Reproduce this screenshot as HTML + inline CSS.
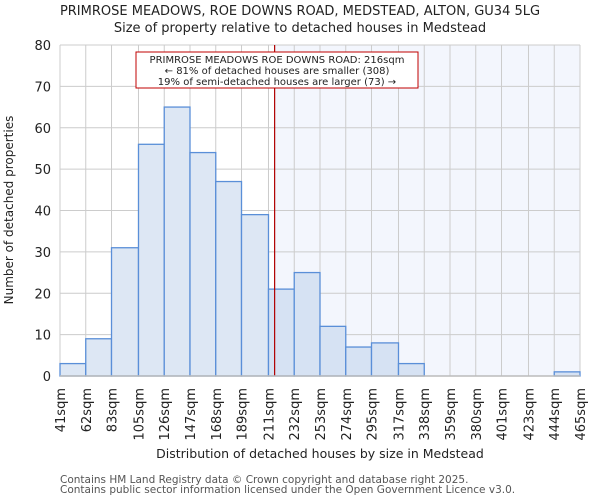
<!DOCTYPE html>
<html><head><meta charset="utf-8"><style>
body{margin:0;background:#fff;}
svg{display:block;font-family:"DejaVu Sans","Liberation Sans",sans-serif;}
</style></head><body>
<svg id="chart" width="600" height="500" xmlns="http://www.w3.org/2000/svg">
<text x="300" y="15" text-anchor="middle" font-size="13" fill="#222">PRIMROSE MEADOWS, ROE DOWNS ROAD, MEDSTEAD, ALTON, GU34 5LG</text>
<text x="300" y="32" text-anchor="middle" font-size="13" fill="#222">Size of property relative to detached houses in Medstead</text>
<g id="grid"></g>
<g id="bars"></g>
<g id="axes"></g>
<text x="0" y="0" transform="translate(13,210) rotate(-90)" text-anchor="middle" font-size="12" fill="#222">Number of detached properties</text>
<text x="320" y="458" text-anchor="middle" font-size="12.5" fill="#222">Distribution of detached houses by size in Medstead</text>
<text x="60" y="483" font-size="10.5" fill="#555">Contains HM Land Registry data © Crown copyright and database right 2025.</text>
<text x="60" y="493" font-size="10.5" fill="#555">Contains public sector information licensed under the Open Government Licence v3.0.</text>
</svg>
<script>
const binEdges=[41,62,83,105,126,147,168,189,211,232,253,274,295,317,338,359,380,401,423,444,465];
const counts=[3,9,31,56,65,54,47,39,21,25,12,7,8,3,0,0,0,0,0,1];
const yTicks=[0,10,20,30,40,50,60,70,80];
const propertySize=216;
const annotationLines=["PRIMROSE MEADOWS ROE DOWNS ROAD: 216sqm","← 81% of detached houses are smaller (308)","19% of semi-detached houses are larger (73) →"];

const NS="http://www.w3.org/2000/svg";
const L=60,R=580,T=45,B=376,xMin=41,xMax=465,yMax=80;
const xs=v=>L+(v-xMin)/(xMax-xMin)*(R-L);
const ys=v=>B-v/yMax*(B-T);
function mk(tag,attrs,parent){const e=document.createElementNS(NS,tag);for(const k in attrs)e.setAttribute(k,attrs[k]);parent.appendChild(e);return e;}
const grid=document.getElementById('grid'),bars=document.getElementById('bars'),axes=document.getElementById('axes'),svg=document.getElementById('chart');

const px=xs(propertySize);
const shade=mk('rect',{x:px,y:T,width:R-px,height:B-T,fill:'#f3f6fd'},grid);


yTicks.forEach(t=>{const g=mk('line',{x1:L,x2:R,y1:ys(t),y2:ys(t),stroke:'#ccc','stroke-width':1},grid);


const lb=mk('text',{x:L-9,y:ys(t)+5,'text-anchor':'end','font-size':13,fill:'#222'},axes);lb.textContent=t;

});
binEdges.forEach(e=>{const g=mk('line',{x1:xs(e),x2:xs(e),y1:T,y2:B,stroke:'#ccc','stroke-width':1},grid);


const lb=mk('text',{x:0,y:0,transform:`translate(${xs(e)+5},388) rotate(-90)`,'text-anchor':'end','font-size':13,fill:'#222'},axes);lb.textContent=e+'sqm';

});
counts.forEach((c,i)=>{if(c<=0)return;const x0=xs(binEdges[i]),x1=xs(binEdges[i+1]);
const r=mk('rect',{x:x0,y:ys(c),width:x1-x0,height:B-ys(c),fill:binEdges[i]>=propertySize-5?'#d6e2f3':'#dde7f4',stroke:'#5a8fd8','stroke-width':1.3},bars);

});
const ax=mk('line',{x1:L,x2:R,y1:B,y2:B,stroke:'#bbb','stroke-width':1.5},axes);


const ml=mk('line',{x1:px,x2:px,y1:T,y2:B,stroke:'#b00000','stroke-width':1.2},bars);


const box=mk('rect',{x:136,y:52,width:282,height:36,fill:'#fff',stroke:'#c00000','stroke-width':1},bars);


annotationLines.forEach((s,i)=>{const t=mk('text',{x:277,y:63+i*11,'text-anchor':'middle','font-size':10,fill:'#222'},bars);t.textContent=s;

});
</script>
</body></html>
